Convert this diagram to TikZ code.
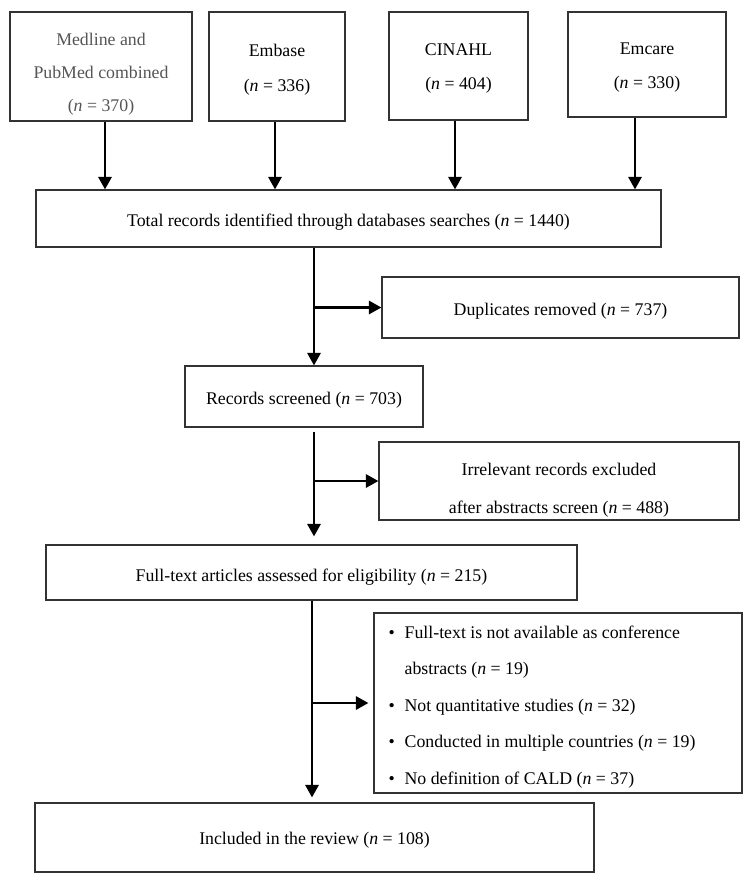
\documentclass[tikz,border=0pt]{standalone}
\usepackage{fontspec}
\setmainfont{Liberation Serif}
\usetikzlibrary{arrows.meta,calc}
\definecolor{boxgray}{HTML}{333333}
\definecolor{medgray}{HTML}{555555}
\begin{document}
\begin{tikzpicture}[x=1pt,y=-1pt,
  box/.style={draw=boxgray, line width=1.1pt, inner sep=0pt},
  txt/.style={inner sep=0pt, align=center, font=\fontsize{17.8}{35}\selectfont},
  arr/.style={line width=2.8pt, -{Triangle[width=13pt,length=12.5pt]}}]
\useasboundingbox (0,0) rectangle (752,883);
% top database boxes
\node[box, minimum width=182pt, minimum height=109pt] (med) at (101,66.5) {};
\node[txt, text=medgray, font=\fontsize{17.8}{33}\selectfont] (medt)
  at ([yshift=-8pt]med.center) {Medline and\\PubMed combined\\(\textit{n} = 370)};
\node[box, minimum width=136pt, minimum height=109pt] (emb) at (277,66.5) {};
\node[txt] (embt) at ([yshift=-3.5pt]emb.center) {Embase\\(\textit{n} = 336)};
\node[box, minimum width=139pt, minimum height=108pt] (cin) at (458.5,66) {};
\node[txt, font=\fontsize{17.8}{34}\selectfont] (cint) at ([yshift=-3pt]cin.center)
  {CINAHL\\(\textit{n} = 404)};
\node[box, minimum width=158pt, minimum height=105pt] (emc) at (647,64.5) {};
\node[txt, font=\fontsize{17.8}{34}\selectfont] (emct) at ([yshift=-3pt]emc.center)
  {Emcare\\(\textit{n} = 330)};
% flow boxes
\node[box, minimum width=625pt, minimum height=57pt] (tot) at (348.5,218.5) {};
\node[txt] (tott) at ([yshift=-4pt]tot.center)
  {Total records identified through databases searches (\textit{n} = 1440)};
\node[box, minimum width=357pt, minimum height=61pt] (dup) at (560.5,307.5) {};
\node[txt] (dupt) at ([yshift=-4pt]dup.center) {Duplicates removed (\textit{n} = 737)};
\node[box, minimum width=238pt, minimum height=61pt] (scr) at (304,396.5) {};
\node[txt] (scrt) at ([yshift=-3.5pt]scr.center) {Records screened (\textit{n} = 703)};
\node[box, minimum width=360pt, minimum height=78pt] (irr) at (559,481) {};
\node[txt, font=\fontsize{17.8}{38}\selectfont] (irrt) at ([yshift=-9pt]irr.center)
  {Irrelevant records excluded\\after abstracts screen (\textit{n} = 488)};
\node[box, minimum width=531pt, minimum height=55pt] (ful) at (311.5,572.5) {};
\node[txt] (fult) at ([yshift=-5pt]ful.center)
  {Full-text articles assessed for eligibility (\textit{n} = 215)};
\node[box, minimum width=368pt, minimum height=180pt] (exc) at (558,703) {};
\node[txt, align=left, anchor=west, font=\fontsize{17.8}{36.5}\selectfont] (exct)
  at ([xshift=15pt,yshift=-4pt]exc.west)
  {\makebox[16pt][l]{\textbullet}Full-text is not available as conference\\
   \hspace*{16pt}abstracts (\textit{n} = 19)\\
   \makebox[16pt][l]{\textbullet}Not quantitative studies (\textit{n} = 32)\\
   \makebox[16pt][l]{\textbullet}Conducted in multiple countries (\textit{n} = 19)\\
   \makebox[16pt][l]{\textbullet}No definition of CALD (\textit{n} = 37)};
\node[box, minimum width=559pt, minimum height=69pt] (inc) at (314.5,837.5) {};
\node[txt] (inct) at ([yshift=-3pt]inc.center) {Included in the review (\textit{n} = 108)};
% connector anchors
\coordinate (m1) at ([xshift=4pt]med.south);
\coordinate (e1) at ([xshift=-2pt]emb.south);
\coordinate (k1) at ([xshift=-3.5pt]cin.south);
\coordinate (r1) at ([xshift=-12pt]emc.south);
\coordinate (c1) at (314,0);
\coordinate (c3) at (312,0);
% database arrows
\draw[arr] (m1) -- (m1 |- tot.north);
\draw[arr] (e1) -- (e1 |- tot.north);
\draw[arr] (k1) -- (k1 |- tot.north);
\draw[arr] (r1) -- (r1 |- tot.north);
% main flow
\draw[arr] (tot.south -| c1) -- (scr.north -| c1);
\draw[arr] (c1 |- dup.west) -- (dup.west);
\draw[arr, shorten <=4pt, shorten >=8pt] (scr.south -| c1) -- (ful.north -| c1);
\draw[arr] (c1 |- irr.west) -- (irr.west);
\draw[arr, shorten >=5pt] (ful.south -| c3) -- (inc.north -| c3);
\draw[arr, shorten >=5pt] (c3 |- exc.west) -- (exc.west);
\end{tikzpicture}
\end{document}
